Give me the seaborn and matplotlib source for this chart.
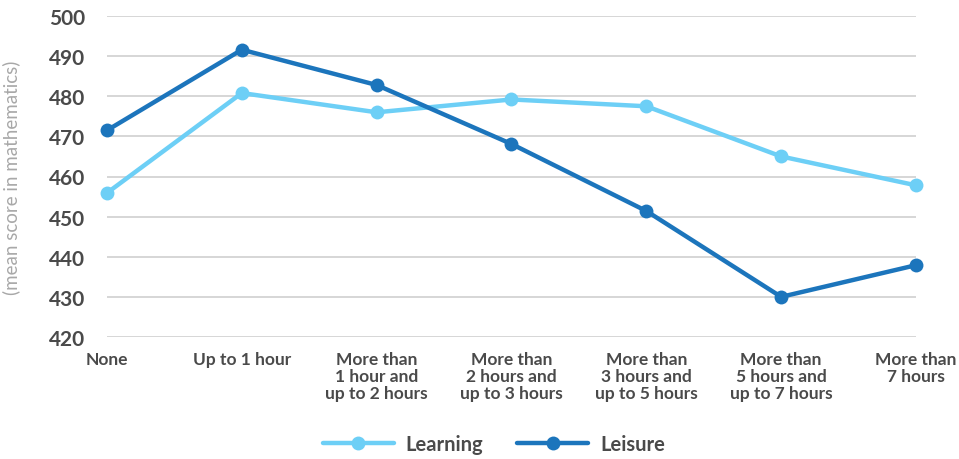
import matplotlib
matplotlib.use("Agg")
import matplotlib.pyplot as plt
import seaborn as sns
import pandas as pd

categories = [
    "None",
    "Up to 1 hour",
    "More than\n1 hour and\nup to 2 hours",
    "More than\n2 hours and\nup to 3 hours",
    "More than\n3 hours and\nup to 5 hours",
    "More than\n5 hours and\nup to 7 hours",
    "More than\n7 hours",
]
learning = [455.9, 480.8, 476.0, 479.2, 477.5, 465.0, 457.8]
leisure = [471.5, 491.6, 482.8, 468.1, 451.4, 430.0, 437.9]
series_names = ["Learning", "Leisure"]
yticks = [420, 430, 440, 450, 460, 470, 480, 490, 500]

colors = {"Learning": "#6DCFF6", "Leisure": "#1C75BC"}

df = pd.DataFrame({
    "category": categories * 2,
    "score": learning + leisure,
    "series": [series_names[0]] * len(categories) + [series_names[1]] * len(categories),
})

sns.set_theme(style="white")
plt.rcParams["font.family"] = ["Lato", "DejaVu Sans"]

fig = plt.figure(figsize=(9.59, 4.60), dpi=100)
ax = fig.add_axes([107 / 959, 1 - 338 / 460, (916 - 107) / 959, (338 - 17) / 460])

sns.lineplot(
    data=df, x="category", y="score", hue="series", palette=colors,
    marker="o", markersize=10, markeredgewidth=0, linewidth=3.2,
    sort=False, ax=ax, clip_on=False, zorder=3,
)

ax.set_ylim(420, 500)
ax.set_xlim(0, len(categories) - 1)
ax.set_yticks(yticks)
ax.yaxis.grid(True, color="#D0D0D0", linewidth=1.2)
ax.xaxis.grid(False)
for s in ax.spines.values():
    s.set_visible(False)

ax.tick_params(axis="y", length=0, pad=16, labelsize=15, labelcolor="#4A4A4A")
ax.tick_params(axis="x", length=6, width=1, color="#C8C8C8", pad=4,
               labelsize=12.5, labelcolor="#4A4A4A")
for lbl in ax.get_xticklabels():
    lbl.set_fontweight("bold")
    lbl.set_linespacing(1.1)
for lbl in ax.get_yticklabels():
    lbl.set_fontweight("bold")

ax.set_xlabel("")
ax.set_ylabel("(mean score in mathematics)", fontsize=13.5, color="#A8A8A8")
ax.yaxis.set_label_coords(-(107 - 20) / 809, 0.5)

handles, labels = ax.get_legend_handles_labels()
ax.legend(
    handles, labels, loc="center", bbox_to_anchor=((494 - 107) / 809, -(445 - 338) / 321),
    ncol=2, frameon=False, handlelength=3.5, columnspacing=1.7,
    prop={"size": 14.5, "weight": "bold"}, labelcolor="#4A4A4A", handletextpad=0.6,
)

fig.savefig("out.png", dpi=100)
